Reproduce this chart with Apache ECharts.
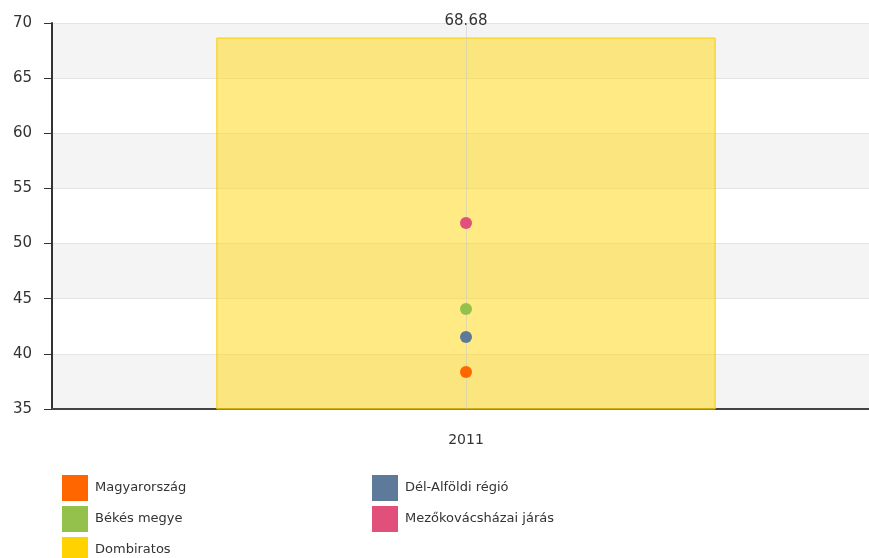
<!DOCTYPE html>
<html>
<head>
<meta charset="utf-8">
<script src="https://cdn.jsdelivr.net/npm/echarts@6/dist/echarts.min.js"></script>
<style>
  html, body { margin: 0; padding: 0; background: #fff; overflow: hidden; }
  #App { width: 881px; height: 558px; }
</style>
</head>
<body>
<div id="App"></div>
<script>
const categories = ['2011'];
const seriesNames = ['Magyarország', 'Dél-Alföldi régió', 'Békés megye', 'Mezőkovácsházai járás', 'Dombiratos'];
const seriesColors = ['#ff6600', '#5e7a9b', '#94c04c', '#e0507a', '#ffd200'];
const magyarorszag = [38.36];
const delAlfold = [41.53];
const bekes = [44.07];
const mezokovacshaza = [51.87];
const dombiratos = [68.68];
const yTicks = { min: 35, max: 70, interval: 5 };

// the plot runs a little past the right edge of the window, like the reference
const chart = echarts.init(document.getElementById('App'));
const font = 'DejaVu Sans, Verdana, sans-serif';

const scatter = (name, data, color) => ({
    name: name,
    type: 'scatter',
    data: data,
    symbolSize: 12,
    z: 5,
    itemStyle: { color: color, opacity: 1 },
});

const legendBox = (names, left) => ({
    data: names.map((n) => ({
        name: n,
        itemStyle: { color: seriesColors[seriesNames.indexOf(n)], borderWidth: 0, opacity: 1 },
    })),
    orient: 'vertical',
    left: left, top: 470,
    height: 120,
    itemWidth: 26, itemHeight: 26, itemGap: 5,
    icon: 'rect',
    textStyle: { fontFamily: font, fontSize: 13, color: '#333', padding: [0, 0, 0, 2] },
});

chart.setOption({
    animation: false,
    color: seriesColors,
    grid: { left: 52, right: 1, top: 23, bottom: 149 },
    legend: [
        legendBox(['Magyarország', 'Békés megye', 'Dombiratos'], 57),
        legendBox(['Dél-Alföldi régió', 'Mezőkovácsházai járás'], 367),
    ],
    xAxis: {
        type: 'category',
        data: categories,
        axisLine: { lineStyle: { color: '#444', width: 2 } },
        axisTick: { alignWithLabel: true, length: 6, lineStyle: { color: '#444' } },
        axisLabel: { fontFamily: font, fontSize: 14, color: '#333', margin: 24 },
    },
    yAxis: {
        type: 'value',
        min: yTicks.min, max: yTicks.max, interval: yTicks.interval,
        axisLine: { show: true, lineStyle: { color: '#333', width: 2 } },
        axisTick: { show: true, length: 8, lineStyle: { color: '#333' } },
        axisLabel: { fontFamily: font, fontSize: 15, color: '#333', margin: 20 },
        splitLine: { lineStyle: { color: '#e4e4e4' } },
        splitArea: { show: true, areaStyle: { color: ['#f4f4f4', '#ffffff'] } },
    },
    series: [
        scatter('Magyarország', magyarorszag, seriesColors[0]),
        scatter('Dél-Alföldi régió', delAlfold, seriesColors[1]),
        scatter('Békés megye', bekes, seriesColors[2]),
        scatter('Mezőkovácsházai járás', mezokovacshaza, seriesColors[3]),
        {
            name: 'Dombiratos',
            type: 'bar',
            data: dombiratos,
            barWidth: '60.3%',
            itemStyle: {
                color: 'rgba(255, 214, 10, 0.5)',
                borderColor: '#f5cf00',
                borderWidth: 1,
            },
            label: {
                show: true,
                position: 'top',
                distance: 9,
                fontFamily: font,
                fontSize: 15,
                color: '#333',
            },
            markLine: {
                silent: true,
                symbol: 'none',
                label: { show: false },
                lineStyle: { color: 'rgba(200, 200, 200, 0.5)', type: 'solid', width: 1 },
                data: [{ xAxis: '2011' }],
            },
        },
    ],
});
</script>
</body>
</html>
